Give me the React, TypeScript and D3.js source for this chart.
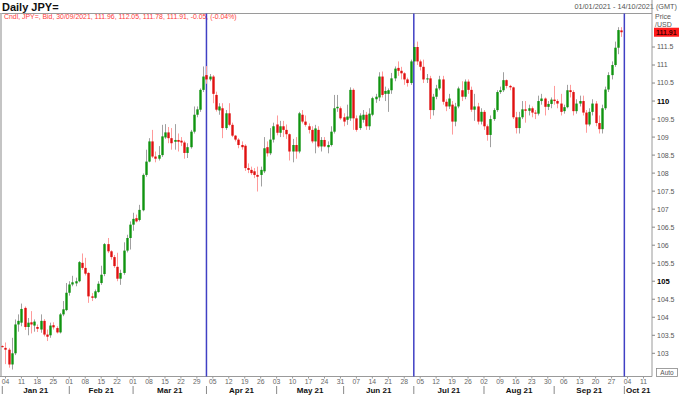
import React from "react";
import * as d3 from "d3";

// ---- Data (USD/JPY daily candles, 01 Jan 2021 – 30 Sep 2021) ----
const openVals = [
  103.2, 103.15, 103.1, 102.69, 103.0, 103.8, 103.85, 104.26, 103.73, 103.86,
  103.77, 103.73, 103.66, 103.9, 103.52, 103.5, 103.78, 103.7, 103.58, 104.08,
  104.2, 104.68, 104.91, 104.94, 105.0, 105.51, 105.37, 105.23, 104.58, 104.54,
  104.7, 104.95, 105.2, 106.03, 105.83, 105.67, 105.4, 105.07, 105.23, 105.85,
  106.2, 106.57, 106.75, 106.7, 106.97, 107.95, 108.32, 108.88, 108.46, 108.4,
  108.5, 108.99, 109.13, 108.97, 108.87, 108.92, 108.9, 108.85, 108.56, 108.72,
  109.15, 109.62, 109.76, 110.31, 110.72, 110.6, 110.68, 110.17, 109.74, 109.8,
  109.25, 109.66, 109.34, 109.04, 108.93, 108.78, 108.76, 108.14, 108.09, 108.05,
  107.95, 107.95, 108.05, 108.72, 108.55, 108.93, 109.35, 109.12, 109.3, 109.2,
  109.08, 108.6, 108.78, 108.6, 109.62, 109.43, 109.3, 109.2, 108.88, 109.2,
  108.74, 108.92, 108.72, 108.78, 109.15, 109.8, 109.8, 109.55, 109.48, 109.52,
  110.31, 109.52, 109.25, 109.48, 109.62, 109.3, 109.62, 110.05, 110.1, 110.68,
  110.2, 110.2, 110.3, 110.63, 110.92, 110.84, 110.77, 110.6, 110.5, 111.1,
  111.5, 111.1, 110.95, 110.6, 110.63, 109.75, 110.12, 110.35, 110.6, 109.98,
  109.85, 109.9, 109.43, 109.85, 110.3, 110.12, 110.54, 110.31, 109.76, 109.85,
  109.43, 109.7, 109.3, 109.06, 109.5, 109.75, 110.25, 110.3, 110.58, 110.42,
  110.38, 109.55, 109.25, 109.55, 109.77, 109.73, 109.8, 109.68, 109.65, 110.0,
  110.07, 109.84, 109.92, 110.04, 110.0, 109.93, 109.72, 109.83, 110.3, 110.25,
  109.72, 109.93, 110.0, 109.68, 109.35, 109.7, 109.93, 109.39, 109.22, 109.8,
  110.32, 110.72, 111.0, 111.48, 111.96,
];
const highVals = [
  103.22, 103.3, 103.15, 103.43, 103.94, 104.08, 104.38, 104.3, 103.98, 104.17,
  103.94, 103.8, 104.08, 103.95, 103.66, 103.85, 103.86, 103.75, 104.12, 104.45,
  104.95, 105.0, 105.15, 105.1, 105.56, 105.77, 105.65, 105.25, 104.67, 104.77,
  105.0, 105.43, 106.06, 106.2, 105.86, 105.73, 105.79, 105.32, 106.08, 106.29,
  106.66, 106.9, 106.85, 107.12, 107.99, 108.65, 108.97, 109.2, 108.6, 108.75,
  109.34, 109.36, 109.28, 109.25, 109.36, 109.1, 109.0, 108.9, 108.83, 109.2,
  109.85, 109.85, 110.35, 110.96, 110.97, 110.75, 110.72, 110.26, 109.94, 109.94,
  109.75, 109.94, 109.4, 109.06, 108.97, 108.88, 108.8, 108.27, 108.18, 108.14,
  108.18, 108.18, 109.0, 108.88, 109.25, 109.4, 109.6, 109.45, 109.45, 109.35,
  109.1, 108.95, 109.0, 109.7, 109.75, 109.6, 109.38, 109.3, 109.34, 109.3,
  109.0, 109.0, 108.88, 109.3, 110.17, 110.17, 109.85, 109.66, 109.9, 110.38,
  110.35, 109.6, 109.66, 109.75, 109.7, 109.8, 110.12, 110.2, 110.8, 110.82,
  110.4, 110.35, 110.78, 110.96, 111.1, 110.95, 110.8, 110.65, 111.15, 111.6,
  111.65, 111.15, 111.15, 110.75, 110.7, 110.2, 110.45, 110.7, 110.7, 110.05,
  110.2, 110.0, 109.95, 110.4, 110.55, 110.6, 110.6, 110.4, 110.2, 109.95,
  109.8, 109.75, 109.35, 109.6, 109.8, 110.3, 110.4, 110.8, 110.6, 110.45,
  110.4, 109.7, 109.7, 110.0, 110.0, 109.9, 109.85, 109.75, 110.15, 110.2,
  110.1, 110.0, 110.1, 110.42, 110.05, 110.2, 109.9, 110.45, 110.45, 110.3,
  110.05, 110.15, 110.15, 109.75, 109.8, 110.05, 110.0, 109.6, 109.9, 110.4,
  110.8, 111.1, 111.65, 112.05, 112.05,
];
const lowVals = [
  103.16, 102.7, 102.6, 102.55, 102.95, 103.6, 103.75, 103.65, 103.5, 103.55,
  103.6, 103.59, 103.57, 103.47, 103.34, 103.43, 103.66, 103.55, 103.55, 104.03,
  104.17, 104.6, 104.86, 104.86, 104.97, 105.32, 105.16, 104.4, 104.45, 104.51,
  104.68, 104.9, 105.14, 105.78, 105.6, 105.37, 105.0, 104.9, 105.18, 105.8,
  105.88, 106.4, 106.63, 106.66, 106.94, 107.9, 108.3, 108.42, 108.3, 108.35,
  108.45, 108.95, 108.83, 108.65, 108.65, 108.6, 108.75, 108.4, 108.42, 108.68,
  109.1, 109.55, 109.7, 110.25, 110.48, 110.55, 109.94, 109.71, 109.62, 108.97,
  109.2, 109.3, 109.0, 108.88, 108.69, 108.65, 108.06, 108.0, 107.95, 107.86,
  107.49, 107.63, 108.0, 108.46, 108.5, 108.85, 109.05, 109.0, 109.0, 108.95,
  108.35, 108.3, 108.4, 108.55, 109.38, 109.29, 109.1, 108.83, 108.55, 108.7,
  108.6, 108.72, 108.55, 108.74, 109.1, 109.7, 109.48, 109.3, 109.34, 109.45,
  109.2, 109.15, 109.2, 109.4, 109.2, 109.2, 109.58, 109.95, 110.0, 110.1,
  110.0, 109.7, 110.2, 110.55, 110.7, 110.6, 110.45, 110.4, 110.45, 111.0,
  111.0, 110.85, 110.5, 110.5, 109.5, 109.6, 110.05, 110.3, 109.9, 109.72,
  109.78, 109.07, 109.3, 109.8, 110.0, 110.05, 110.2, 109.7, 109.45, 109.35,
  109.35, 109.2, 108.9, 108.72, 109.45, 109.7, 110.2, 110.25, 110.35, 110.3,
  109.5, 109.1, 109.1, 109.5, 109.4, 109.6, 109.55, 109.5, 109.6, 109.9,
  109.6, 109.75, 109.8, 109.9, 109.8, 109.6, 109.65, 109.8, 110.1, 109.6,
  109.65, 109.85, 109.6, 109.12, 109.3, 109.6, 109.3, 109.1, 109.1, 109.75,
  110.25, 110.6, 110.95, 111.3, 111.78,
];
const closeVals = [
  103.18, 103.1, 102.69, 103.0, 103.8, 103.9, 104.23, 103.73, 103.85, 103.8,
  103.88, 103.68, 103.9, 103.52, 103.46, 103.77, 103.72, 103.58, 104.08, 104.22,
  104.68, 104.91, 104.97, 105.0, 105.53, 105.37, 105.21, 104.58, 104.54, 104.72,
  104.93, 105.18, 106.03, 105.83, 105.67, 105.42, 105.07, 105.23, 105.85, 106.2,
  106.57, 106.73, 106.66, 106.98, 107.95, 108.32, 108.88, 108.46, 108.4, 108.5,
  109.02, 109.13, 108.97, 108.83, 108.92, 108.87, 108.85, 108.56, 108.72, 109.15,
  109.62, 109.77, 110.31, 110.68, 110.6, 110.68, 110.2, 109.76, 109.85, 109.25,
  109.66, 109.34, 109.04, 108.93, 108.78, 108.72, 108.14, 108.09, 108.0, 107.95,
  107.9, 108.09, 108.69, 108.55, 108.93, 109.3, 109.12, 109.3, 109.2, 109.08,
  108.6, 108.78, 108.6, 109.66, 109.43, 109.34, 109.2, 108.88, 109.24, 108.74,
  108.92, 108.74, 108.78, 109.15, 109.8, 109.84, 109.52, 109.43, 109.57, 110.31,
  109.52, 109.2, 109.6, 109.62, 109.3, 109.65, 110.08, 110.12, 110.68, 110.17,
  110.28, 110.3, 110.63, 110.9, 110.84, 110.77, 110.6, 110.5, 111.1, 111.5,
  111.1, 110.95, 110.6, 110.63, 109.75, 110.12, 110.35, 110.6, 109.98, 109.85,
  110.07, 109.43, 109.85, 110.35, 110.12, 110.54, 110.31, 109.76, 109.85, 109.43,
  109.7, 109.3, 109.06, 109.5, 109.75, 110.25, 110.3, 110.58, 110.42, 110.38,
  109.55, 109.25, 109.55, 109.77, 109.73, 109.8, 109.68, 109.65, 110.0, 110.07,
  109.84, 109.92, 110.04, 110.0, 109.93, 109.7, 109.83, 110.3, 110.25, 109.72,
  109.93, 110.0, 109.68, 109.35, 109.7, 109.93, 109.39, 109.22, 109.8, 110.32,
  110.72, 111.0, 111.48, 111.97, 111.91,
];
const yTicks = [103, 103.5, 104, 104.5, 105, 105.5, 106, 106.5, 107, 107.5, 108, 108.5, 109, 109.5, 110, 110.5, 111, 111.5];
const boldTicks = [105, 110];
const quarterStarts = ["2021-04-01", "2021-07-01", "2021-10-01"];
const rangeStart = "2021-01-01";
const rangeEnd = "2021-10-14";
const headerText = "Cndl, JPY=, Bid, 30/09/2021, 111.96, 112.05, 111.78, 111.91, -0.05, (-0.04%)";
const lastPrice = "111.91";

const W = 679;
const H = 395;
const AX = 652;
const TOP = 13.5;
const BOTTOM = 376.5;
const FONT = "'Liberation Sans', Arial, sans-serif";

const parse = d3.utcParse("%Y-%m-%d");
const fmtKey = d3.utcFormat("%Y-%m-%d");

export default function App() {
  // trading calendar (weekdays) over the displayed range
  const allDays = d3.utcDay
    .range(parse(rangeStart)!, d3.utcDay.offset(parse(rangeEnd)!, 1))
    .filter((d) => d.getUTCDay() !== 0 && d.getUTCDay() !== 6);
  const keys = allDays.map(fmtKey);

  const x = d3.scaleBand<string>().domain(keys).range([0.7, 0.7 + keys.length * 3.19]).padding(0);
  const bw = x.bandwidth();
  const cx = (k: string) => (x(k) ?? 0) + bw / 2;
  const y = d3.scaleLinear().domain([103, 111.5]).range([353.3, 47]);

  const candles = closeVals.map((c, i) => ({
    key: keys[i],
    o: openVals[i],
    h: highVals[i],
    l: lowVals[i],
    c,
  }));

  const mondays = d3.utcMonday.range(parse(rangeStart)!, d3.utcDay.offset(parse(rangeEnd)!, 1));
  const months = d3.utcMonth.range(parse(rangeStart)!, parse(rangeEnd)!);
  const monthFirst = months.map((m) => {
    const k = keys.find((kk) => kk >= fmtKey(m))!;
    return { m, k, x: cx(k) };
  });

  return (
    <svg
      width={W}
      height={H}
      style={{ position: "absolute", left: 0, top: 0, background: "#fff" }}
      fontFamily={FONT}
    >
      <rect x={0} y={0} width={W} height={H} fill="#fff" />
      {/* title */}
      <text x={2} y={10.5} fontSize={11} fontWeight="bold" fill="#111">
        Daily JPY=
      </text>
      <text x={677} y={9} fontSize={7.3} fill="#555" textAnchor="end">
        01/01/2021 - 14/10/2021 (GMT)
      </text>
      {/* frame */}
      <line x1={0} x2={AX} y1={TOP} y2={TOP} stroke="#9a9a9a" strokeWidth={1} />
      <line x1={1} x2={1} y1={TOP} y2={BOTTOM} stroke="#c4c4c4" strokeWidth={2} />
      <line x1={0} x2={AX} y1={BOTTOM} y2={BOTTOM} stroke="#9a9a9a" strokeWidth={1} />
      <line x1={AX} x2={AX} y1={0} y2={BOTTOM} stroke="#9a9a9a" strokeWidth={1} />

      <text x={4} y={18.5} fontSize={6.9} fill="#ff3b3b">
        {headerText}
      </text>

      {/* quarter lines */}
      {quarterStarts.map((q) => (
        <line key={q} x1={cx(q)} x2={cx(q)} y1={TOP} y2={BOTTOM} stroke="#4040c4" strokeWidth={1.5} />
      ))}

      {/* candles */}
      {candles.map((d) => {
        const up = d.c >= d.o;
        const xc = Math.round(cx(d.key)) + 0.5;
        const top = y(Math.max(d.o, d.c));
        const bot = y(Math.min(d.o, d.c));
        return (
          <g key={d.key}>
            <line
              x1={xc}
              x2={xc}
              y1={y(d.h)}
              y2={y(d.l)}
              stroke={up ? "#a0a0a0" : "#ff9a9a"}
              strokeWidth={1}
            />
            <rect
              x={xc - 1.2}
              y={top}
              width={2.4}
              height={Math.max(1, bot - top)}
              fill={up ? "#109410" : "#e01010"}
            />
          </g>
        );
      })}

      {/* y axis */}
      <text x={655} y={19} fontSize={7} fill="#555">Price</text>
      <text x={655} y={27} fontSize={7} fill="#555">/USD</text>
      {yTicks.map((t) => {
        const b = boldTicks.includes(t);
        return (
          <g key={t} transform={`translate(${AX},${y(t)})`}>
            <line x1={0} x2={3} stroke="#888" />
            <text x={5} dy="0.35em" fontSize={b ? 7.6 : 7} fontWeight={b ? "bold" : "normal"} fill={b ? "#000" : "#555"}>
              {t}
            </text>
          </g>
        );
      })}
      <rect x={654} y={y(111.91) - 4.5} width={25} height={9} fill="#ff1a1a" />
      <text x={656} y={y(111.91)} dy="0.35em" fontSize={7} fontWeight="bold" fill="#400">
        {lastPrice}
      </text>
      <rect x={656.5} y={368.5} width={21} height={8} fill="#fff" stroke="#888" strokeWidth={0.8} />
      <text x={667} y={372.5} dy="0.35em" fontSize={6.5} fill="#555" textAnchor="middle">
        Auto
      </text>

      {/* x axis: weekly day labels */}
      {mondays.map((m) => {
        const k = fmtKey(m);
        const xx = cx(k);
        return (
          <g key={k}>
            <line x1={xx} x2={xx} y1={BOTTOM} y2={BOTTOM + 2} stroke="#999" />
            <text x={xx} y={384} fontSize={6.8} fill="#666" textAnchor="middle">
              {d3.utcFormat("%d")(m)}
            </text>
          </g>
        );
      })}
      {monthFirst.map((mf, i) => {
        const next = i + 1 < monthFirst.length ? monthFirst[i + 1].x : AX;
        const mid = (mf.x + next) / 2;
        return (
          <g key={mf.k}>
            <line x1={mf.x} x2={mf.x} y1={386} y2={394} stroke="#888" strokeWidth={1} />
            <text x={mid} y={393} fontSize={8} fontWeight="bold" fill="#111" textAnchor="middle">
              {d3.utcFormat("%b %y")(mf.m)}
            </text>
          </g>
        );
      })}
    </svg>
  );
}
